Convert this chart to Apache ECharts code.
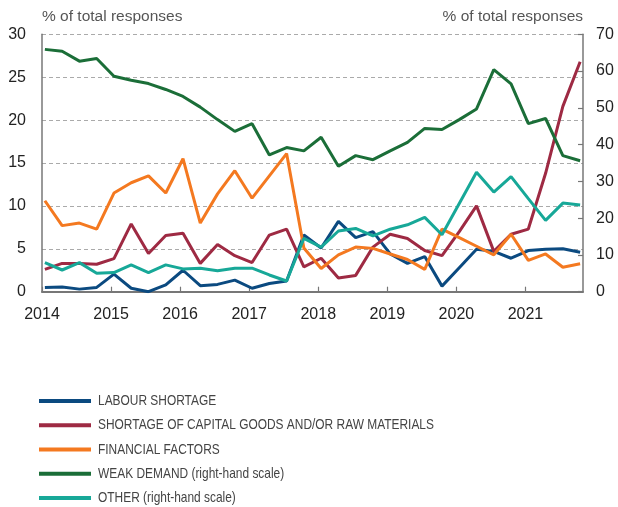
<!DOCTYPE html>
<html>
<head>
<meta charset="utf-8">
<script src="https://cdn.jsdelivr.net/npm/echarts@6/dist/echarts.min.js"></script>
<style>
  html, body { margin: 0; padding: 0; background: #fff; }
  #chart { width: 618px; height: 507px; }
</style>
</head>
<body>
<div id="chart"></div>
<script>
// Quarterly survey periods (first month of each quarter)
const periods = [
  '2014-01','2014-04','2014-07','2014-10',
  '2015-01','2015-04','2015-07','2015-10',
  '2016-01','2016-04','2016-07','2016-10',
  '2017-01','2017-04','2017-07','2017-10',
  '2018-01','2018-04','2018-07','2018-10',
  '2019-01','2019-04','2019-07','2019-10',
  '2020-01','2020-04','2020-07','2020-10',
  '2021-01','2021-04','2021-07','2021-10'
];

// Left-hand scale (% of total responses)
const labourShortage = [
  0.5, 0.55, 0.3, 0.5, 2.05, 0.4, 0.0, 0.8,
  2.5, 0.7, 0.85, 1.35, 0.4, 0.95, 1.25, 6.6,
  5.1, 8.2, 6.3, 7.0, 4.4, 3.3, 4.1, 0.65,
  2.8, 4.95, 4.7, 3.9, 4.8, 4.95, 5.0, 4.6
];
const capitalShortage = [
  2.6, 3.3, 3.3, 3.2, 3.85, 7.9, 4.45, 6.55,
  6.8, 3.3, 5.5, 4.2, 3.4, 6.6, 7.3, 2.9,
  3.9, 1.6, 1.9, 5.2, 6.7, 6.2, 4.8, 4.2,
  7.0, 10.0, 4.7, 6.7, 7.3, 13.8, 21.6, 26.8
];
const financialFactors = [
  10.6, 7.7, 8.0, 7.3, 11.5, 12.7, 13.5, 11.5,
  15.5, 8.0, 11.4, 14.1, 10.9, 13.5, 16.1, 5.1,
  2.7, 4.3, 5.2, 5.05, 4.4, 3.75, 2.6, 7.3,
  6.3, 5.3, 4.3, 6.7, 3.65, 4.4, 2.85, 3.25
];

// Right-hand scale (% of total responses)
const weakDemand = [
  65.9, 65.4, 62.7, 63.4, 58.6, 57.5, 56.6, 55.0,
  53.1, 50.2, 46.8, 43.6, 45.7, 37.2, 39.2, 38.3,
  42.0, 34.1, 37.0, 35.9, 38.3, 40.6, 44.4, 44.1,
  46.8, 49.7, 60.4, 56.5, 45.7, 47.1, 37.0, 35.6
];
const other = [
  7.9, 5.9, 7.9, 5.0, 5.2, 7.3, 5.2, 7.3,
  6.2, 6.4, 5.7, 6.4, 6.4, 4.55, 2.9, 14.5,
  12.1, 16.5, 17.2, 15.2, 17.0, 18.2, 20.2, 15.5,
  24.0, 32.5, 27.1, 31.3, 25.3, 19.4, 24.1, 23.6
];

const seriesNames = [
  'LABOUR SHORTAGE',
  'SHORTAGE OF CAPITAL GOODS AND/OR RAW MATERIALS',
  'FINANCIAL FACTORS',
  'WEAK DEMAND (right-hand scale)',
  'OTHER (right-hand scale)'
];
const seriesColors = ['#0b4a80', '#9e2a43', '#f47920', '#1b6e38', '#17a898'];
const axisTitle = '% of total responses';

// Place each period at the middle of its month on a decimal-year axis
function toYear(p) {
  const [y, m] = p.split('-').map(Number);
  return y + (m - 0.5) / 12;
}
const xMax = 2021 + 10 / 12;

function pairs(values) {
  return periods.map((p, i) => [toYear(p), values[i]]);
}

const lineSeries = [
  { values: labourShortage, axis: 0 },
  { values: capitalShortage, axis: 0 },
  { values: financialFactors, axis: 0 },
  { values: weakDemand, axis: 1 },
  { values: other, axis: 1 }
].map((s, i) => ({
  name: seriesNames[i],
  type: 'line',
  yAxisIndex: s.axis,
  data: pairs(s.values),
  showSymbol: false,
  symbol: 'none',
  smooth: false,
  lineStyle: { width: 3, color: seriesColors[i] },
  itemStyle: { color: seriesColors[i] },
  animation: false
}));

const font = 'Liberation Sans, Arial, Helvetica, sans-serif';

// Key below the plot: a coloured bar and a condensed caption per series
const keyRowGap = 24.25;
const keyItems = [];
seriesNames.forEach((name, i) => {
  keyItems.push({
    type: 'rect',
    shape: { x: 0, y: i * keyRowGap - 2, width: 52, height: 4 },
    style: { fill: seriesColors[i] }
  });
  keyItems.push({
    type: 'text',
    x: 59,
    y: i * keyRowGap,
    scaleX: 0.795,
    style: {
      text: name,
      font: '15px Liberation Sans, Arial, sans-serif',
      fill: '#444',
      textVerticalAlign: 'middle',
      verticalAlign: 'middle'
    }
  });
});

const chart = echarts.init(document.getElementById('chart'), null, { renderer: 'canvas' });
chart.setOption({
  backgroundColor: '#ffffff',
  animation: false,
  grid: { left: 42, right: 35, top: 34.3, height: 257.4, containLabel: false },
  graphic: [{ type: 'group', x: 39, y: 401, children: keyItems }],
  xAxis: {
    type: 'value',
    min: 2014,
    max: xMax,
    interval: 1,
    axisLine: { show: true, lineStyle: { color: '#777', width: 2 } },
    axisTick: { show: true, inside: true, length: 5, lineStyle: { color: '#777', width: 1.2 } },
    axisLabel: {
      fontFamily: font, fontSize: 16, color: '#222', margin: 15,
      showMaxLabel: false,
      formatter: v => (Math.abs(v - Math.round(v)) < 1e-6 ? String(Math.round(v)) : '')
    },
    splitLine: { show: false }
  },
  yAxis: [
    {
      type: 'value',
      min: 0, max: 30, interval: 5,
      position: 'left',
      name: axisTitle,
      nameLocation: 'end',
      nameGap: 18,
      nameTextStyle: { fontFamily: font, fontSize: 15.5, color: '#555', align: 'left', verticalAlign: 'middle' },
      axisLine: { show: true, lineStyle: { color: '#777', width: 1.5 } },
      axisTick: { show: false },
      axisLabel: { fontFamily: font, fontSize: 16, color: '#222', margin: 16 },
      splitLine: { show: true, lineStyle: { color: '#aaa', width: 1, type: [4, 3] } }
    },
    {
      type: 'value',
      min: 0, max: 70, interval: 10,
      position: 'right',
      name: axisTitle,
      nameLocation: 'end',
      nameGap: 18,
      nameTextStyle: { fontFamily: font, fontSize: 15.5, color: '#555', align: 'right', verticalAlign: 'middle' },
      axisLine: { show: true, lineStyle: { color: '#777', width: 1.5 } },
      axisTick: { show: true, inside: true, length: 5, lineStyle: { color: '#777', width: 1.2 } },
      axisLabel: { fontFamily: font, fontSize: 16, color: '#222', margin: 13 },
      splitLine: { show: false }
    }
  ],
  series: lineSeries
});
</script>
</body>
</html>
